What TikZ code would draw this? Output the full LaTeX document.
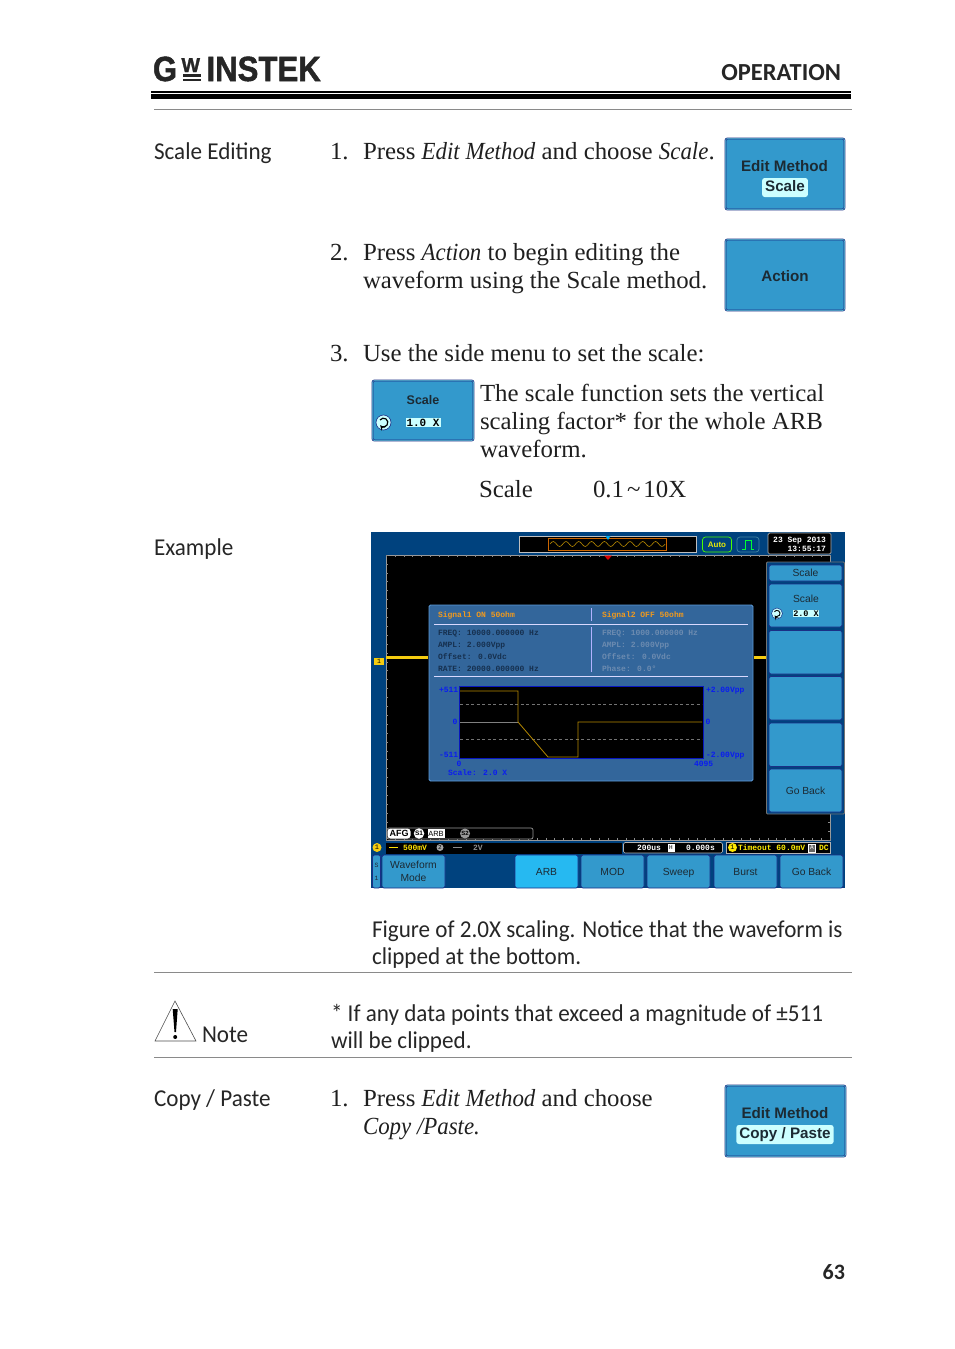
\documentclass[tikz,border=0pt]{standalone}
\usepackage{fontspec}
\setmainfont{Liberation Serif}[FakeStretch=1.01,ItalicFeatures={FakeStretch=0.93}]
\newfontfamily\labelfont{Carlito}[FakeStretch=0.955]
\newfontfamily\headfont{Carlito}
\newfontfamily\keyfont{Liberation Sans}
\newfontfamily\logofont{Liberation Sans Bold}[FakeBold=1.5]
\newfontfamily\lcdfont{Liberation Mono}
\definecolor{keyblue}{HTML}{3399CC}
\definecolor{keyedge}{HTML}{1B2F86}
\definecolor{keylight}{HTML}{66CCDD}
\definecolor{keypale}{HTML}{CCFFFF}
\definecolor{keytext}{HTML}{1C2A33}
\definecolor{frameblue}{HTML}{00427E}
\definecolor{dialogblue}{HTML}{33669B}
\definecolor{dialogedge}{HTML}{5C9BD8}
\definecolor{rowtext}{HTML}{16304F}
\definecolor{offtext}{HTML}{6C8BB0}
\definecolor{sigorange}{HTML}{F09A1E}
\definecolor{tracegold}{HTML}{B88A00}
\definecolor{traceyellow}{HTML}{F5CC10}
\definecolor{labelblue}{HTML}{0A1CF0}
\definecolor{rulegrey}{HTML}{8A8A8A}
\tikzset{
  body/.style={anchor=base west,font=\fontsize{24.6}{27}\selectfont,text=black!88},
  side/.style={anchor=base west,font=\labelfont\fontsize{24.2}{27}\selectfont,text=black!85},
  bigkey/.style={anchor=north west,draw=keyedge,double=keylight,double distance=0.5pt,line width=0.7pt,fill=keyblue,rounded corners=2pt},
  softkey/.style={anchor=north west,draw=keyedge,line width=0.8pt,fill=keyblue,rounded corners=2pt,text=keytext,font=\keyfont\fontsize{10.3}{12.5}\selectfont,align=center},
  bigtext/.style={font=\keyfont\bfseries\fontsize{15.2}{18}\selectfont,text=keytext},
  pill/.style={fill=keypale,rounded corners=2.5pt,inner xsep=3pt,inner ysep=2.5pt,text height=11pt,text depth=3pt},
  lcd/.style={anchor=base west,font=\lcdfont\bfseries\fontsize{8}{8.5}\selectfont},
  rowlabel/.style={lcd,text=rowtext},
  offlabel/.style={lcd,text=offtext},
  scalelabel/.style={lcd,text=labelblue},
  tickline/.style={draw=black!45,line width=0.5pt},
}
\begin{document}
\begin{tikzpicture}[x=1pt,y=-1pt,inner sep=0pt,outer sep=0pt]
    \useasboundingbox (0,0) rectangle (954,1349);

    % page header
    \node[anchor=base west,font=\logofont\fontsize{35}{35}\selectfont,text=black!85,xscale=0.88] (logo_g) at (153,81) {G};
    \node[anchor=base west,font=\logofont\fontsize{20}{20}\selectfont,text=black!85,xscale=0.98] (logo_w) at (181.5,72) {W};
    \fill[black!85] (183,74) rectangle (201,76.5);
    \fill[black!85] (183,78.5) rectangle (201,81);
    \node[anchor=base west,font=\logofont\fontsize{35}{35}\selectfont,text=black!85,xscale=0.89] (logo_name) at (206.5,81) {INSTEK};
    \node[anchor=base east,font=\headfont\bfseries\fontsize{24.5}{26}\selectfont,text=black!85] (chapter) at (841,80.5) {OPERATION};
    \fill[black] (151,91.2) rectangle (851,92.6);
    \fill[black] (151,94.2) rectangle (851,99);
    \draw[rulegrey,line width=0.9pt] (154,109.5) -- (852,109.5);

    % scale editing
    \node[side] (scale_head) at (154,159) {Scale Editing};
    \node[body] (num_a) at (330,159) {1.};
    \node[body] (step_a) at (363,159) {Press \textit{Edit Method} and choose \textit{Scale}.};
    \node[bigkey,minimum width=119pt,minimum height=71pt] (key_scale) at (725.5,138.5) {};
    \node[bigtext] (key_scale_top) at (784.5,166.5) {Edit Method};
    \node[bigtext,pill] (key_scale_sub) at (785,187.5) {Scale};

    \node[body] (num_b) at (330,260) {2.};
    \node[body] (step_b) at (363,260) {Press \textit{Action} to begin editing the};
    \node[body] (step_b2) at (363,288) {waveform using the Scale method.};
    \node[bigkey,minimum width=119pt,minimum height=71pt] (key_action) at (725.5,239.5) {};
    \node[bigtext] (key_action_txt) at (785,276) {Action};

    \node[body] (num_c) at (330,361) {3.};
    \node[body] (step_c) at (363,361) {Use the side menu to set the scale:};
    \node[bigkey,minimum width=101pt,minimum height=60pt] (key_side) at (372.5,380.5) {};
    \node[font=\keyfont\bfseries\fontsize{12.5}{14}\selectfont,text=keytext] (key_side_top) at (423,400) {Scale};
    \node[draw=keyedge,fill=keypale,circle,minimum size=15pt,line width=0.6pt] (key_side_knob) at (383.5,422.5) {};
    \draw[black,line width=1.2pt,-stealth] (key_side_knob.center) ++(-3.5,-2.5) arc[start angle=145,end angle=-140,radius=4.3pt];
    \node[fill=keypale,font=\lcdfont\bfseries\fontsize{11}{12}\selectfont,text=black,inner xsep=1pt,inner ysep=1pt] (key_side_val) at (423,422.5) {1.0 X};
    \node[body] (info_a) at (480,401) {The scale function sets the vertical};
    \node[body] (info_b) at (480,429) {scaling factor* for the whole ARB};
    \node[body] (info_c) at (480,457) {waveform.};
    \node[body] (range_name) at (479,497) {Scale};
    \node[body] (range_val) at (593,497) {0.1\hspace{3pt}\char`~\hspace{3pt}10X};

    % example screen
    \node[side] (example_head) at (154,555) {Example};
    \fill[frameblue] (371,532) rectangle (845,888);
    \fill[black] (386,555) rectangle (830,840);
    \draw[black!40,line width=0.6pt] (386,840) -- (386,555) -- (830,555) -- (830,840) -- cycle;
    \foreach \tx in {0,...,50} {
      \draw[tickline] ({386+\tx*8.88},555) -- ++(0,2);
      \draw[tickline] ({386+\tx*8.88},840) -- ++(0,-2);
    }
    \foreach \ty in {0,...,32} {
      \draw[tickline] (386,{555+\ty*8.9}) -- ++(2,0);
      \draw[tickline] (830,{555+\ty*8.9}) -- ++(-2,0);
    }

    % top bar
    \node[anchor=north west,draw=black!25,fill=black,line width=0.7pt,minimum width=177pt,minimum height=16pt] (wave_win) at (519,536) {};
    \node[anchor=north west,draw=orange!80!black,fill=black,line width=1pt,minimum width=118pt,minimum height=12pt] (wave_view) at (548,538) {};
    \draw[tracegold,line width=0.6pt] (550,544) \foreach \wx in {0,...,8} { sin ++(3.2,-2.5) cos ++(3.2,2.5) sin ++(3.2,2.5) cos ++(3.2,-2.5) };
    \fill[cyan] (605.5,536) -- (610.5,536) -- (608,540) -- cycle;
    \fill[red!85!black] (604,555.5) -- (612,555.5) -- (608,560) -- cycle;
    \node[draw=green!70!yellow,rounded corners=3pt,line width=0.7pt,minimum width=29pt,minimum height=15pt,text=yellow!90!green,font=\keyfont\bfseries\fontsize{8}{9}\selectfont] (auto_box) at (717,544.5) {Auto};
    \node[draw=cyan!60!black,rounded corners=3pt,line width=0.7pt,minimum width=22pt,minimum height=15pt] (pulse_box) at (748,544.5) {};
    \draw[green!80!cyan,line width=0.8pt] (742,549) -- (745,549) -- (745,540.5) -- (751,540.5) -- (751,549) -- (754,549);
    \node[anchor=north west,draw=black!30,fill=black,rounded corners=1.5pt,line width=0.7pt,minimum width=63pt,minimum height=21pt] (date_box) at (768,533) {};
    \node[lcd,text=white,anchor=base east] (date_a) at (826,542) {23 Sep 2013};
    \node[lcd,text=white,anchor=base east] (date_b) at (826,551) {13:55:17};

    % channel marker and trace
    \fill[traceyellow] (386,655.5) rectangle (428,658.5);
    \fill[traceyellow] (754,655.5) rectangle (766,658.5);
    \node[fill=traceyellow,minimum width=10pt,minimum height=7pt,font=\lcdfont\fontsize{6.5}{7}\selectfont] (ch_mark) at (379,661.5) {1};

    % signal dialog
    \node[anchor=north west,draw=dialogedge,fill=dialogblue,line width=0.8pt,rounded corners=1.5pt,minimum width=324pt,minimum height=176pt] (dialog) at (429,605) {};
    \draw[white!85!blue,line width=0.8pt] (434,624) -- (748,624);
    \draw[white!85!blue,line width=0.8pt] (434,676) -- (748,676);
    \draw[white!70!blue,line width=0.7pt] (591,608) -- (591,621);
    \draw[white!70!blue,line width=0.7pt] (591,627) -- (591,672);
    \node[lcd,text=sigorange] (sig_one) at (438,617) {Signal1 ON 50ohm};
    \node[lcd,text=sigorange] (sig_two) at (602,617) {Signal2 OFF 50ohm};
    \node[rowlabel] (row_a) at (438,635.5) {FREQ: 10000.000000 Hz};
    \node[rowlabel] (row_b) at (438,647.5) {AMPL: 2.000Vpp};
    \node[rowlabel] (row_c) at (438,659) {Offset: 0.0Vdc};
    \node[rowlabel] (row_d) at (438,671) {RATE: 20000.000000 Hz};
    \node[offlabel] (off_a) at (602,635.5) {FREQ: 1000.000000 Hz};
    \node[offlabel] (off_b) at (602,647.5) {AMPL: 2.000Vpp};
    \node[offlabel] (off_c) at (602,659) {Offset: 0.0Vdc};
    \node[offlabel] (off_d) at (602,671) {Phase: 0.0\textdegree};

    % arb plot
    \node[anchor=north west,draw=labelblue!80!black,fill=black,line width=0.8pt,minimum width=244pt,minimum height=72pt] (arb_plot) at (459,686) {};
    \draw[black!55,dashed,dash pattern=on 3pt off 2.5pt,line width=0.6pt] (460,704) -- (702,704);
    \draw[black!55,dashed,dash pattern=on 3pt off 2.5pt,line width=0.6pt] (460,739.5) -- (702,739.5);
    \draw[black!50,line width=0.8pt] (460,722) -- (518,722);
    \draw[tracegold,line width=0.8pt] (460,691) -- (518,691) -- (518,722) -- (548,757) -- (578,757) -- (578,722) -- (702,722);
    \node[scalelabel] (plus_max) at (439,692) {+511};
    \node[scalelabel] (mid_zero) at (452.5,724.5) {0};
    \node[scalelabel] (minus_max) at (439,757) {-511};
    \node[scalelabel] (start_zero) at (456.5,766) {0};
    \node[scalelabel] (scale_note) at (448,775) {Scale: 2.0 X};
    \node[scalelabel] (plus_volt) at (706,692) {+2.00Vpp};
    \node[scalelabel] (right_zero) at (705.5,724.5) {0};
    \node[scalelabel] (minus_volt) at (706,757) {-2.00Vpp};
    \node[scalelabel] (end_count) at (694,766) {4095};

    % side menu
    \node[anchor=north west,draw=black!55,fill=frameblue,line width=0.8pt,minimum width=78pt,minimum height=252pt,rounded corners=1pt] (side_menu) at (766.5,562) {};
    \node[softkey,minimum width=73pt,minimum height=16pt] (side_title) at (769,565) {Scale};
    \node[softkey,minimum width=73pt,minimum height=43pt] (side_scale) at (769,584) {};
    \node[softkey,minimum width=73pt,minimum height=43.5pt] (side_c) at (769,630.5) {};
    \node[softkey,minimum width=73pt,minimum height=43.5pt] (side_d) at (769,676.5) {};
    \node[softkey,minimum width=73pt,minimum height=43.5pt] (side_e) at (769,723) {};
    \node[softkey,minimum width=73pt,minimum height=43pt] (side_back) at (769,769) {Go Back};
    \node[font=\keyfont\fontsize{10.3}{11}\selectfont,text=keytext] (side_scale_top) at (806,598.5) {Scale};
    \node[draw=keyedge,fill=keypale,circle,minimum size=11pt,line width=0.5pt] (side_knob) at (777,613.5) {};
    \draw[black,line width=0.9pt,-stealth] (side_knob.center) ++(-2.6,-1.8) arc[start angle=145,end angle=-140,radius=3.1pt];
    \node[fill=keypale,font=\lcdfont\bfseries\fontsize{8.5}{9.5}\selectfont,text=black,inner xsep=0.5pt,inner ysep=1pt] (side_val) at (806,613.5) {2.0 X};

    % status bars
    \node[anchor=north west,draw=black!40,fill=black,rounded corners=2pt,line width=0.7pt,minimum width=146pt,minimum height=11pt] (afg_bar) at (387,828) {};
    \node[fill=white,rounded corners=3pt,minimum width=23pt,minimum height=10pt,font=\keyfont\bfseries\fontsize{9}{9}\selectfont,text=black] (afg_tag) at (399,833.5) {AFG};
    \node[fill=white,circle,minimum size=10.5pt,font=\keyfont\bfseries\fontsize{6.5}{7}\selectfont,text=black] (afg_one) at (419,833.5) {S1};
    \node[fill=white,minimum width=17pt,minimum height=9.5pt,font=\keyfont\fontsize{7.5}{8}\selectfont,text=black] (afg_arb) at (436,833.5) {ARB};
    \node[fill=black!40,circle,minimum size=10pt,font=\keyfont\bfseries\fontsize{6}{7}\selectfont,text=black] (afg_two) at (465,833.5) {S2};
    \node[anchor=north west,fill=black,minimum width=236pt,minimum height=10.5pt] (ch_bar) at (386,843) {};
    \node[fill=traceyellow,circle,minimum size=9pt,font=\lcdfont\fontsize{7}{7}\selectfont] (ch_one) at (377,847.5) {1};
    \node[lcd,text=yellow!85!orange] (ch_volt) at (403,850) {500mV};
    \node[lcd,text=black!45] (ch_two_volt) at (473,850) {2V};
    \node[fill=black!35,circle,minimum size=7pt,font=\lcdfont\fontsize{6}{6}\selectfont] (ch_two) at (440,847.5) {2};
    \draw[yellow!85!orange,line width=1pt] (389,847.5) -- (398,847.5);
    \draw[black!45,line width=1pt] (453,847.5) -- (462,847.5);
    \node[anchor=north west,draw=black!30,fill=black,rounded corners=1.5pt,line width=0.6pt,minimum width=99pt,minimum height=10.5pt] (time_box) at (623.5,842.5) {};
    \node[lcd,text=white] (time_a) at (637,850) {200us};
    \node[fill=white,minimum width=7pt,minimum height=8pt,font=\lcdfont\fontsize{6}{6}\selectfont,text=black] (time_h) at (671,847.5) {H};
    \node[lcd,text=white] (time_b) at (686,850) {0.000s};
    \node[anchor=north west,draw=black!30,fill=black,line width=0.6pt,minimum width=104pt,minimum height=10.5pt] (trig_box) at (726.5,842.5) {};
    \node[fill=yellow!90!orange,circle,minimum size=9pt,font=\lcdfont\fontsize{7}{7}\selectfont] (trig_one) at (732.5,847.5) {1};
    \node[lcd,text=yellow!95!orange] (trig_txt) at (738,850) {Timeout 60.0mV};
    \node[draw=white,fill=black!60,minimum width=7pt,minimum height=8pt,font=\lcdfont\fontsize{6}{6}\selectfont,text=white,line width=0.4pt] (trig_a) at (812,848) {A};
    \node[lcd,text=yellow!95!orange] (trig_dc) at (819,850) {DC};

    % bottom menu
    \node[softkey,minimum width=8pt,minimum height=33pt,font=\lcdfont\fontsize{6.5}{9}\selectfont] (bottom_s) at (372.5,855) {S\\[4pt]1};
    \node[softkey,minimum width=63pt,minimum height=33pt] (bottom_mode) at (382,855) {Waveform\\Mode};
    \node[softkey,minimum width=63pt,minimum height=33pt,fill=cyan!85!white] (bottom_arb) at (515,855) {ARB};
    \node[softkey,minimum width=63pt,minimum height=33pt] (bottom_mod) at (581,855) {MOD};
    \node[softkey,minimum width=63pt,minimum height=33pt] (bottom_sweep) at (647,855) {\raisebox{0pt}[\height][0pt]{Sweep}};
    \node[softkey,minimum width=63pt,minimum height=33pt] (bottom_burst) at (714,855) {Burst};
    \node[softkey,minimum width=63pt,minimum height=33pt] (bottom_back) at (780,855) {Go Back};

    % caption
    \node[side] (caption_a) at (372,937) {Figure of 2.0X scaling. Notice that the waveform is};
    \node[side] (caption_b) at (372,964) {clipped at the bottom.};
    \draw[rulegrey,line width=0.9pt] (154,972.5) -- (852,972.5);

    % note
    \draw[black!70,line width=0.6pt] (155,1041) -- (175,1001) -- (196,1041) -- cycle;
    \fill[black] (172.7,1009) -- (177.7,1009) -- (176,1032) -- (174.5,1032) -- cycle;
    \fill[black] (175.2,1037) circle[radius=2pt];
    \node[side] (note_head) at (202,1042) {Note};
    \node[side] (note_a) at (331,1021) {* If any data points that exceed a magnitude of \textpm 511};
    \node[side] (note_b) at (331,1048) {will be clipped.};
    \draw[rulegrey,line width=0.9pt] (154,1057.5) -- (852,1057.5);

    % copy paste
    \node[side] (copy_head) at (154,1106) {Copy / Paste};
    \node[body] (num_d) at (330,1106) {1.};
    \node[body] (step_d) at (363,1106) {Press \textit{Edit Method} and choose};
    \node[body] (step_d2) at (363,1134) {\textit{Copy /Paste.}};
    \node[bigkey,minimum width=120pt,minimum height=71pt] (key_copy) at (725.5,1085.5) {};
    \node[bigtext] (key_copy_top) at (785,1113.5) {Edit Method};
    \node[bigtext,pill] (key_copy_sub) at (785,1134.5) {Copy / Paste};

    % page number
    \node[anchor=base east,font=\headfont\bfseries\fontsize{22}{24}\selectfont,text=black!85] (page_num) at (845,1279) {63};
\end{tikzpicture}
\end{document}
